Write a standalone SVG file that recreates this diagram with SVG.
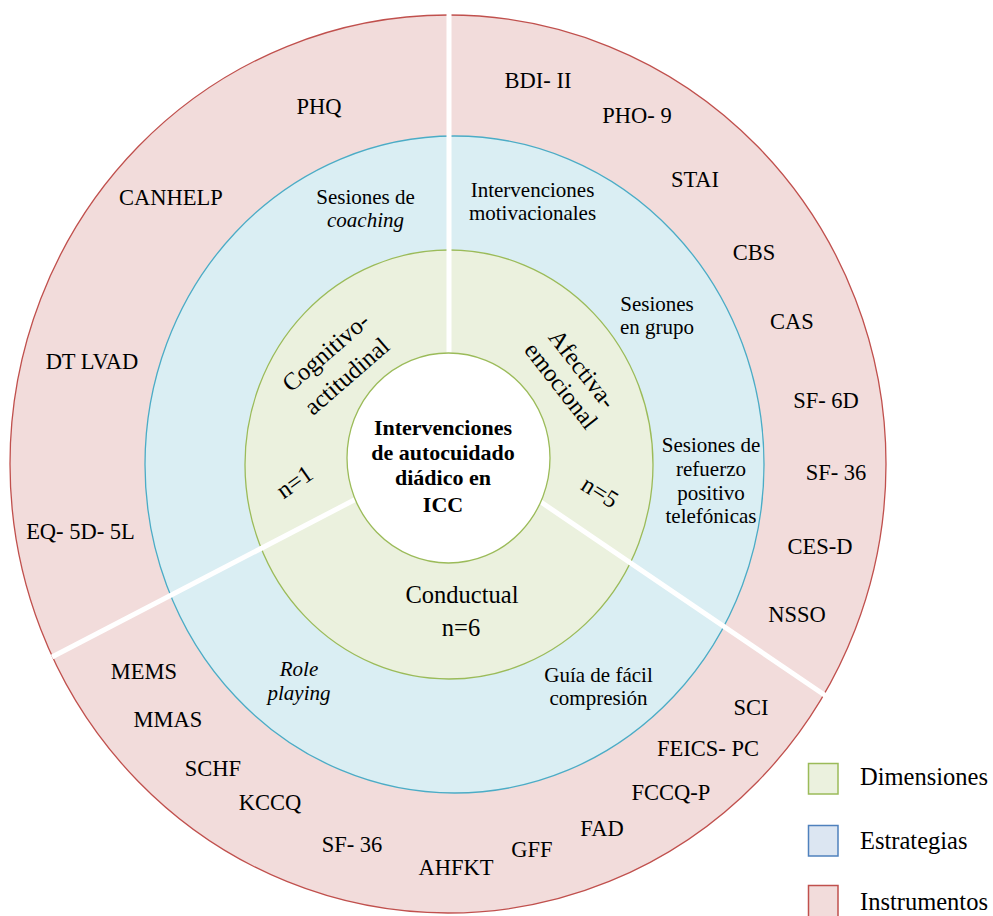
<svg xmlns="http://www.w3.org/2000/svg" width="993" height="916" viewBox="0 0 993 916" font-family="'Liberation Serif', 'DejaVu Serif', serif">
<style>
text{font-family:'Liberation Serif','DejaVu Serif',serif;fill:#000;text-anchor:middle}
.ins{font-size:22.5px}
.str{font-size:21px}
.dim{font-size:24.5px}
.ctr{font-size:22px;font-weight:bold}
.leg{font-size:24.5px;text-anchor:start}
.div{stroke:#fff;stroke-width:5;fill:none}
</style>
<rect width="993" height="916" fill="#fff"/>
<g id="ring-instrumentos"><ellipse cx="448" cy="464" rx="438" ry="449" fill="#f2dcdb" stroke="#c0504d" stroke-width="1.3"/></g>
<g id="ring-estrategias"><ellipse cx="454.5" cy="464.5" rx="309.5" ry="328.5" fill="#daeef3" stroke="#4bacc6" stroke-width="1.3"/></g>
<g id="ring-dimensiones"><ellipse cx="449" cy="464.5" rx="204" ry="214.5" fill="#ebf1de" stroke="#9bbb59" stroke-width="1.3"/></g>
<g id="connectors">
<line class="div" x1="449" y1="0" x2="449" y2="360"/>
<line class="div" x1="360" y1="497" x2="52" y2="657"/>
<line class="div" x1="535" y1="498" x2="826" y2="696"/>
</g>
<g id="centro">
<ellipse cx="448.5" cy="458" rx="101.5" ry="105" fill="#fff" stroke="#9bbb59" stroke-width="1.3"/>
<text class="ctr" x="443" y="435">Intervenciones</text>
<text class="ctr" x="443" y="460">de autocuidado</text>
<text class="ctr" x="443" y="485">diádico en</text>
<text class="ctr" x="443" y="512">ICC</text>
</g>
<g id="dim-cognitivo">
<g transform="translate(337,365) rotate(-41)">
<text class="dim" x="0" y="-9">Cognitivo-</text>
<text class="dim" x="0" y="23">actitudinal</text>
</g>
<text class="dim" transform="translate(294.5,482) rotate(-35)" x="0" y="8">n=1</text>
</g>
<g id="dim-afectiva">
<g transform="translate(572,377) rotate(52)">
<text class="dim" x="0" y="-5">Afectiva-</text>
<text class="dim" x="0" y="22">emocional</text>
</g>
<text class="dim" transform="translate(600,492) rotate(32)" x="0" y="8">n=5</text>
</g>
<g id="dim-conductual">
<text class="dim" x="462" y="603">Conductual</text>
<text class="dim" x="461" y="636">n=6</text>
</g>
<g id="est-coaching">
<text class="str" x="365.5" y="204">Sesiones de</text>
<text class="str" x="365.5" y="227" font-style="italic">coaching</text>
</g>
<g id="est-motivacionales">
<text class="str" x="532.5" y="197">Intervenciones</text>
<text class="str" x="532.5" y="220">motivacionales</text>
</g>
<g id="est-grupo">
<text class="str" x="657" y="311">Sesiones</text>
<text class="str" x="657" y="334">en grupo</text>
</g>
<g id="est-telefonicas">
<text class="str" x="711" y="452">Sesiones de</text>
<text class="str" x="711" y="476">refuerzo</text>
<text class="str" x="711" y="500">positivo</text>
<text class="str" x="711" y="523">telefónicas</text>
</g>
<g id="est-guia">
<text class="str" x="598.5" y="682">Guía de fácil</text>
<text class="str" x="598.5" y="705">compresión</text>
</g>
<g id="est-role">
<text class="str" x="299" y="676" font-style="italic">Role</text>
<text class="str" x="299" y="700" font-style="italic">playing</text>
</g>
<g id="instrumentos">
<text class="ins" x="319" y="114">PHQ</text>
<text class="ins" x="171" y="205">CANHELP</text>
<text class="ins" x="92" y="369">DT LVAD</text>
<text class="ins" x="80.5" y="539">EQ- 5D- 5L</text>
<text class="ins" x="538" y="88">BDI- II</text>
<text class="ins" x="637" y="123">PHO- 9</text>
<text class="ins" x="695" y="187">STAI</text>
<text class="ins" x="754" y="260">CBS</text>
<text class="ins" x="792" y="329">CAS</text>
<text class="ins" x="826" y="408">SF- 6D</text>
<text class="ins" x="836" y="480">SF- 36</text>
<text class="ins" x="820" y="554">CES-D</text>
<text class="ins" x="797" y="622">NSSO</text>
<text class="ins" x="144" y="679">MEMS</text>
<text class="ins" x="168" y="727">MMAS</text>
<text class="ins" x="213" y="776">SCHF</text>
<text class="ins" x="270" y="810">KCCQ</text>
<text class="ins" x="352" y="852">SF- 36</text>
<text class="ins" x="456" y="875">AHFKT</text>
<text class="ins" x="532" y="857">GFF</text>
<text class="ins" x="602" y="836">FAD</text>
<text class="ins" x="671" y="800">FCCQ-P</text>
<text class="ins" x="708" y="756">FEICS- PC</text>
<text class="ins" x="751" y="715">SCI</text>
</g>
<g id="leyenda">
<rect x="808.5" y="763.5" width="29.5" height="30.5" fill="#ebf1de" stroke="#9bbb59" stroke-width="1.5"/>
<text class="leg" x="860" y="785">Dimensiones</text>
<rect x="808.5" y="825.5" width="29.5" height="30.5" fill="#dce6f2" stroke="#4f81bd" stroke-width="1.5"/>
<text class="leg" x="860" y="849">Estrategias</text>
<rect x="808.5" y="885.5" width="29.5" height="32" fill="#f2dcdb" stroke="#c0504d" stroke-width="1.5"/>
<text class="leg" x="860" y="910">Instrumentos</text>
</g>
</svg>
